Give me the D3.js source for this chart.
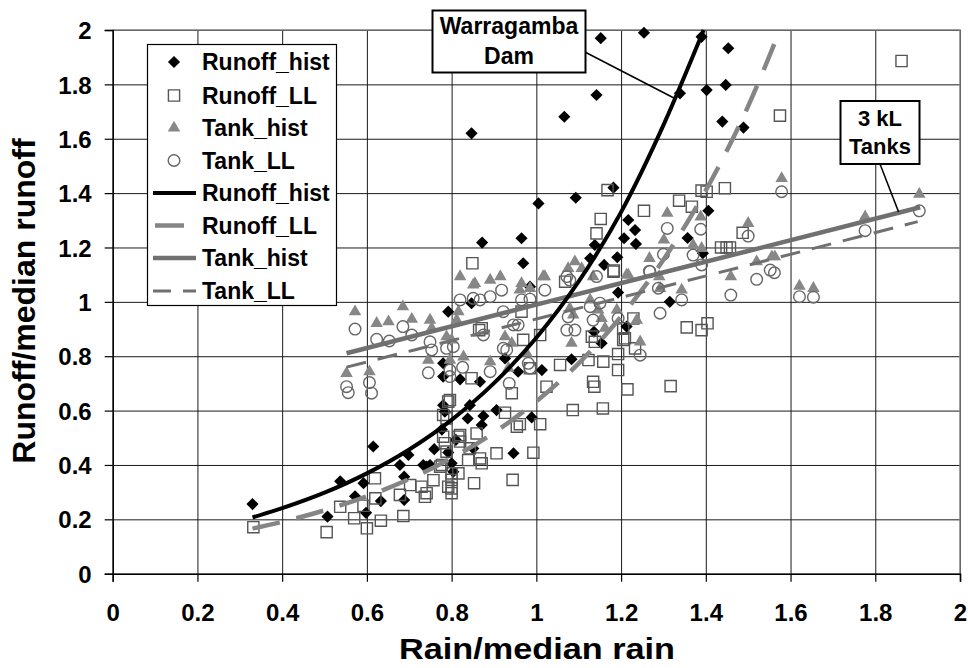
<!DOCTYPE html>
<html>
<head>
<meta charset="utf-8">
<script src="https://cdn.jsdelivr.net/npm/d3@7"></script>
<style>
  html, body { margin: 0; padding: 0; background: #fff; }
  svg { display: block; }
  text { font-family: "Liberation Sans", Arial, sans-serif; font-weight: bold; fill: #000; }
</style>
</head>
<body>
<svg id="chart" width="968" height="668"></svg>
<script>
// ---------------- data ----------------
const xTicks = [0, 0.2, 0.4, 0.6, 0.8, 1.0, 1.2, 1.4, 1.6, 1.8, 2.0];
const xTickLabels = ["0", "0.2", "0.4", "0.6", "0.8", "1", "1.2", "1.4", "1.6", "1.8", "2"];
const yTicks = [0, 0.2, 0.4, 0.6, 0.8, 1.0, 1.2, 1.4, 1.6, 1.8, 2.0];
const yTickLabels = ["0", "0.2", "0.4", "0.6", "0.8", "1", "1.2", "1.4", "1.6", "1.8", "2"];

const seriesNames = ["Runoff_hist", "Runoff_LL", "Tank_hist", "Tank_LL"];
const trendNames = ["Runoff_hist", "Runoff_LL", "Tank_hist", "Tank_LL"];

// Runoff_hist (black diamonds)  [rain ratio, runoff ratio]
const runoffHist = [
  [0.33,0.256],[0.507,0.21],[0.537,0.34],[0.572,0.285],[0.592,0.333],[0.598,0.224],[0.615,0.468],[0.633,0.267],
  [0.678,0.40],[0.688,0.357],[0.688,0.271],[0.698,0.437],[0.733,0.40],[0.741,0.394],[0.749,0.40],[0.759,0.458],
  [0.777,0.53],[0.780,0.62],[0.784,0.596],[0.780,0.725],[0.780,0.774],[0.792,0.446],[0.80,0.406],[0.804,0.375],[0.81,0.492],
  [0.82,0.715],[0.838,0.571],[0.843,0.62],[0.851,0.461],[0.867,0.706],[0.871,0.547],[0.875,0.58],[0.906,0.602],
  [0.926,0.792],[0.946,0.443],[0.957,0.743],[0.989,0.575],[1.013,0.749],[1.083,0.789],
  [0.792,0.964],[0.847,0.995],[0.847,1.62],[0.872,1.218],[0.965,1.234],[0.969,1.142],[0.985,1.056],[1.005,1.362],
  [1.066,1.681],[1.093,1.383],[1.127,1.16],[1.136,0.89],[1.138,1.209],[1.142,1.761],[1.152,1.97],[1.154,0.848],[1.16,1.136],
  [1.182,1.42],[1.191,1.164],[1.193,1.034],[1.207,1.234],[1.213,0.909],[1.217,1.301],[1.233,1.264],[1.235,1.213],[1.254,1.99],
  [1.315,1.0],[1.339,1.767],[1.357,1.235],[1.39,1.975],[1.393,1.179],[1.402,1.779],[1.406,1.335],[1.439,1.663],[1.447,1.798],[1.453,1.933],[1.489,1.641]
];

// Runoff_LL (open squares)
const runoffLL = [
  [0.332,0.171],[0.505,0.153],[0.537,0.246],[0.57,0.204],[0.592,0.25],[0.60,0.167],[0.619,0.351],[0.62,0.277],[0.633,0.195],
  [0.678,0.29],[0.686,0.212],[0.702,0.326],[0.729,0.32],[0.737,0.283],[0.741,0.296],[0.757,0.344],
  [0.773,0.394],[0.777,0.40],[0.78,0.504],[0.78,0.584],[0.784,0.48],[0.788,0.449],[0.788,0.571],[0.792,0.633],[0.796,0.639],
  [0.792,0.32],[0.80,0.345],[0.80,0.314],[0.80,0.296],[0.80,0.369],
  [0.816,0.369],[0.816,0.504],[0.82,0.486],[0.82,0.51],[0.839,0.418],[0.843,0.461],[0.847,0.719],[0.849,1.142],[0.853,0.333],
  [0.859,0.516],[0.865,0.896],[0.867,0.424],[0.871,0.406],[0.871,0.903],
  [0.906,0.443],[0.926,0.592],[0.942,0.664],[0.944,0.345],[0.954,0.541],[0.961,0.55],[0.965,0.964],[0.969,0.86],[0.985,0.756],
  [0.993,0.445],[1.009,0.55],[1.009,0.878],[1.024,0.688],
  [1.056,0.768],[1.068,1.074],[1.086,0.602],[1.123,0.786],[1.131,0.872],[1.134,0.706],[1.137,0.688],[1.138,0.853],[1.142,1.252],
  [1.152,1.305],[1.157,0.608],[1.158,0.78],[1.168,1.411],[1.182,1.111],[1.183,1.115],
  [1.193,0.808],[1.193,0.749],[1.205,0.86],[1.205,0.903],[1.209,0.866],[1.215,0.678],[1.229,0.939],[1.233,0.829],[1.254,1.335],
  [1.317,0.69],[1.337,1.372],[1.355,0.906],[1.367,1.35],[1.39,1.409],[1.39,0.896],[1.402,1.405],[1.404,0.921],
  [1.436,1.2],[1.445,1.418],[1.449,1.2],[1.457,1.2],[1.487,1.254],[1.575,1.685],[1.862,1.886]
];

// Tank_hist (grey triangles)
const tankHist = [
  [0.552,0.737],[0.572,0.964],[0.606,0.743],[0.623,0.921],[0.651,0.927],[0.685,0.982],[0.706,0.936],[0.745,0.786],[0.749,0.933],[0.753,0.903],
  [0.788,0.872],[0.796,0.786],[0.80,0.86],[0.812,0.933],[0.816,0.964],[0.82,1.093],[0.828,0.798],[0.851,1.062],[0.855,1.068],[0.891,1.08],[0.891,0.78],
  [0.915,1.093],[0.926,0.872],[0.934,0.756],[0.942,0.848],[0.961,1.044],[0.965,1.068],[0.977,0.811],[0.985,1.05],[1.016,1.093],[1.02,1.093],
  [1.075,1.123],[1.079,0.976],[1.083,0.848],[1.087,0.952],[1.091,1.148],[1.107,1.123],[1.127,1.007],[1.134,1.093],[1.146,0.97],[1.154,0.939],[1.162,0.903],
  [1.19,0.97],[1.213,1.099],[1.217,1.099],[1.237,0.933],[1.245,0.853],[1.267,1.16],[1.29,1.093],[1.292,1.05],[1.301,1.228],[1.309,1.326],[1.343,1.044],
  [1.37,1.209],[1.388,1.313],[1.39,1.197],[1.459,1.093],[1.50,1.289],[1.52,1.148],[1.556,1.166],[1.563,1.166],[1.579,1.454],[1.621,1.058],[1.654,1.05],
  [1.776,1.313],[1.904,1.396]
];

// Tank_LL (open circles)
const tankLL = [
  [0.552,0.688],[0.556,0.666],[0.572,0.90],[0.606,0.703],[0.611,0.664],[0.623,0.862],[0.653,0.856],[0.685,0.909],[0.706,0.878],[0.745,0.739],
  [0.749,0.853],[0.753,0.823],[0.788,0.829],[0.796,0.749],[0.796,0.725],[0.804,0.835],[0.82,1.007],[0.826,0.759],[0.851,1.013],[0.867,1.007],
  [0.875,0.878],[0.891,1.019],[0.891,0.743],[0.918,1.043],[0.922,0.964],[0.922,0.829],[0.93,0.823],[0.936,0.70],[0.946,0.915],[0.957,0.915],
  [0.965,1.007],[0.981,0.774],[0.985,1.01],[0.985,0.756],
  [1.02,1.043],[1.072,1.093],[1.072,0.896],[1.075,0.945],[1.079,1.08],[1.091,0.896],[1.127,0.982],[1.134,0.933],[1.142,1.093],[1.15,0.995],
  [1.193,0.939],[1.245,0.804],[1.268,1.111],[1.267,1.113],[1.288,1.05],[1.292,0.958],[1.30,1.175],[1.309,1.27],[1.343,1.007],[1.37,1.172],
  [1.388,1.267],[1.39,1.136],[1.459,1.025],[1.50,1.242],[1.52,1.083],[1.552,1.117],[1.562,1.107],[1.579,1.405],[1.621,1.019],[1.654,1.017],
  [1.776,1.262],[1.904,1.335]
];

// Trend lines, points
const runoffHistFitX = [0.33, 0.4, 0.5, 0.6, 0.7, 0.8, 0.9, 1.0, 1.1, 1.2, 1.3, 1.395];
const runoffHistFitY = [0.207, 0.241, 0.298, 0.369, 0.457, 0.566, 0.701, 0.868, 1.075, 1.33, 1.65, 2.0];
const runoffLLFitX = [0.33, 0.4, 0.5, 0.6, 0.7, 0.8, 0.9, 1.0, 1.1, 1.2, 1.3, 1.4, 1.5, 1.575];
const runoffLLFitY = [0.166, 0.191, 0.233, 0.285, 0.348, 0.425, 0.519, 0.634, 0.774, 0.946, 1.155, 1.41, 1.72, 2.0];
const tankHistFitX = [0.552, 1.0, 1.5, 1.906];
const tankHistFitY = [0.811, 0.99, 1.187, 1.348];
const tankLLFitX = [0.552, 1.0, 1.5, 1.90];
const tankLLFitY = [0.76, 0.937, 1.135, 1.295];

const damLabel = ["Warragamba", "Dam"];
const tankLabel = ["3 kL", "Tanks"];

// ---------------- drawing ----------------
const svg = d3.select("#chart");
svg.append("rect").attr("width", 968).attr("height", 668).attr("fill", "#fff");

const L = 112.7, R = 960, T = 30, B = 573.7;
const x = d3.scaleLinear().domain([0, 2]).range([L, R]);
const y = d3.scaleLinear().domain([0, 2]).range([B, T]);

// grid
const grid = svg.append("g");
grid.append("g").attr("transform", `translate(0,${B})`)
  .call(d3.axisBottom(x).tickValues(xTicks).tickSize(-(B - T)).tickFormat(""))
  .call(g => g.select(".domain").remove())
  .call(g => g.selectAll("line").attr("stroke", "#1a1a1a").attr("stroke-width", 1));
grid.append("g").attr("transform", `translate(${L},0)`)
  .call(d3.axisLeft(y).tickValues(yTicks).tickSize(-(R - L)).tickFormat(""))
  .call(g => g.select(".domain").remove())
  .call(g => g.selectAll("line").attr("stroke", "#1a1a1a").attr("stroke-width", 1));

// plot border top/right (grey)
svg.append("path").attr("d", `M${L},${T}H${R}V${B}`).attr("fill", "none").attr("stroke", "#808080").attr("stroke-width", 1.5);

// axes
const xAxis = svg.append("g").attr("transform", `translate(0,${B})`)
  .call(d3.axisBottom(x).tickValues(xTicks).tickSize(8).tickPadding(22)
    .tickFormat((d, i) => xTickLabels[i]));
xAxis.select(".domain").attr("stroke", "#000").attr("stroke-width", 1.5);
xAxis.selectAll("line").attr("stroke", "#000").attr("stroke-width", 1.2);
xAxis.selectAll("text").attr("font-size", 24).attr("font-family", "Liberation Sans, Arial, sans-serif")
  .attr("font-weight", "bold").attr("fill", "#000");

const yAxis = svg.append("g").attr("transform", `translate(${L},0)`)
  .call(d3.axisLeft(y).tickValues(yTicks).tickSize(8).tickPadding(13)
    .tickFormat((d, i) => yTickLabels[i]));
yAxis.select(".domain").attr("stroke", "#000").attr("stroke-width", 1.5);
yAxis.selectAll("line").attr("stroke", "#000").attr("stroke-width", 1.2);
yAxis.selectAll("text").attr("font-size", 24).attr("font-family", "Liberation Sans, Arial, sans-serif")
  .attr("font-weight", "bold").attr("fill", "#000").attr("dy", "0.36em");

// axis titles
svg.append("text").attr("x", 537).attr("y", 659).attr("text-anchor", "middle")
  .attr("font-size", 30).attr("textLength", 276).attr("lengthAdjust", "spacingAndGlyphs")
  .text("Rain/median rain");
svg.append("text").attr("transform", "translate(35,301) rotate(-90)").attr("text-anchor", "middle")
  .attr("font-size", 32).text("Runoff/median runoff");

// markers
const diamondPath = d3.symbol(d3.symbolSquare, 74)();
const squarePath = d3.symbol(d3.symbolSquare, 125)();
const trianglePath = d3.symbol(d3.symbolTriangle, 68)();

const styles = {
  Runoff_hist: g => g.append("path").attr("d", diamondPath).attr("transform", "rotate(45)").attr("fill", "#000"),
  Runoff_LL: g => g.append("path").attr("d", squarePath).attr("fill", "none").attr("stroke", "#555").attr("stroke-width", 1.4),
  Tank_hist: g => g.append("path").attr("d", trianglePath).attr("fill", "#878787"),
  Tank_LL: g => g.append("circle").attr("r", 5.8).attr("fill", "none").attr("stroke", "#666").attr("stroke-width", 1.4)
};

const plotG = svg.append("g");
[[runoffHist, "Runoff_hist"], [runoffLL, "Runoff_LL"], [tankHist, "Tank_hist"], [tankLL, "Tank_LL"]].forEach(([data, name]) => {
  plotG.append("g").selectAll("g").data(data).join("g")
    .attr("transform", d => `translate(${x(d[0])},${y(d[1])})`)
    .each(function () { styles[name](d3.select(this)); });
});

// trend lines
const lineGen = d3.line().x(d => x(d[0])).y(d => y(d[1])).curve(d3.curveMonotoneX);
const zip = (xs, ys) => xs.map((v, i) => [v, ys[i]]);
const lineStyles = {
  Runoff_hist: { stroke: "#000", width: 4, dash: null },
  Runoff_LL: { stroke: "#858585", width: 4.5, dash: "28,17" },
  Tank_hist: { stroke: "#707070", width: 4.5, dash: null },
  Tank_LL: { stroke: "#707070", width: 3, dash: "20,12" }
};
const fits = {
  Runoff_LL: zip(runoffLLFitX, runoffLLFitY),
  Tank_LL: zip(tankLLFitX, tankLLFitY),
  Tank_hist: zip(tankHistFitX, tankHistFitY),
  Runoff_hist: zip(runoffHistFitX, runoffHistFitY)
};
["Runoff_LL", "Tank_LL", "Tank_hist", "Runoff_hist"].forEach(n => {
  const s = lineStyles[n];
  svg.append("path").attr("d", lineGen(fits[n])).attr("fill", "none")
    .attr("stroke", s.stroke).attr("stroke-width", s.width)
    .attr("stroke-dasharray", s.dash);
});

// legend
const lg = svg.append("g");
lg.append("rect").attr("x", 147.5).attr("y", 44.5).attr("width", 189).attr("height", 261)
  .attr("fill", "#fff").attr("stroke", "#000").attr("stroke-width", 1.2);
const rowY = [62, 95.5, 128, 160.5, 193, 225.5, 258, 291];
seriesNames.forEach((n, i) => {
  const g = lg.append("g").attr("transform", `translate(174,${rowY[i]})`);
  styles[n](g);
  lg.append("text").attr("x", 202).attr("y", rowY[i]).attr("dy", "0.36em").attr("font-size", 23).text(n);
});
trendNames.forEach((n, i) => {
  const s = lineStyles[n];
  const yy = rowY[i + 4];
  const dash = n === "Runoff_LL" ? "29,40" : (n === "Tank_LL" ? "18,12" : null);
  const x0 = n === "Runoff_LL" ? 155 : 153;
  lg.append("line").attr("x1", x0).attr("x2", 196).attr("y1", yy).attr("y2", yy)
    .attr("stroke", s.stroke).attr("stroke-width", s.width).attr("stroke-dasharray", dash);
  lg.append("text").attr("x", 202).attr("y", yy).attr("dy", "0.36em").attr("font-size", 23).text(n);
});

// annotations
// Warragamba Dam
svg.append("line").attr("x1", 583).attr("y1", 51).attr("x2", x(1.327)).attr("y2", y(1.748))
  .attr("stroke", "#000").attr("stroke-width", 1.5);
svg.append("rect").attr("x", 432.5).attr("y", 10.5).attr("width", 153).attr("height", 62)
  .attr("fill", "#fff").attr("stroke", "#000").attr("stroke-width", 2);
svg.append("text").attr("x", 509).attr("y", 34).attr("text-anchor", "middle").attr("font-size", 23).text(damLabel[0]);
svg.append("text").attr("x", 509).attr("y", 64).attr("text-anchor", "middle").attr("font-size", 23).text(damLabel[1]);

// 3 kL Tanks
svg.append("line").attr("x1", 880).attr("y1", 164).attr("x2", x(1.855)).attr("y2", y(1.331))
  .attr("stroke", "#000").attr("stroke-width", 1.5);
svg.append("rect").attr("x", 840.5).attr("y", 101).attr("width", 79).attr("height", 63)
  .attr("fill", "#fff").attr("stroke", "#000").attr("stroke-width", 2);
svg.append("text").attr("x", 880).attr("y", 125.5).attr("text-anchor", "middle").attr("font-size", 22).text(tankLabel[0]);
svg.append("text").attr("x", 880).attr("y", 154).attr("text-anchor", "middle").attr("font-size", 22).text(tankLabel[1]);
</script>
</body>
</html>
